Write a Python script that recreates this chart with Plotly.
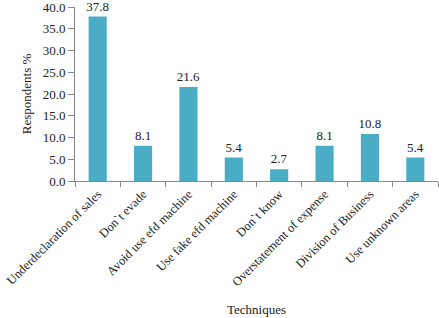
import plotly.graph_objects as go

categories = ["Underdeclaration of sales", "Don`t evade", "Avoid use efd machine",
              "Use fake efd machine", "Don`t know", "Overstatement of expense",
              "Division of Business", "Use unknown areas"]
values = [37.8, 8.1, 21.6, 5.4, 2.7, 8.1, 10.8, 5.4]
y_ticks = [0, 5, 10, 15, 20, 25, 30, 35, 40]

fam = "Liberation Serif, Times New Roman, serif"
font = dict(family=fam, size=13, color="#222222")

fig = go.Figure(go.Bar(
    x=categories, y=values,
    marker=dict(color="#4BACC6", line=dict(width=0)),
    text=[f"{v:.1f}" for v in values], textposition="outside",
    textfont=dict(family=fam, size=13, color="#222222"),
    constraintext="none",
    cliponaxis=False,
))

fig.update_layout(
    width=439, height=318,
    margin=dict(l=75, r=1, t=7, b=137),
    paper_bgcolor="white", plot_bgcolor="white",
    font=font, bargap=0.6, showlegend=False,
)
fig.update_yaxes(
    range=[0, 40], tickvals=y_ticks, tickformat=".1f",
    showgrid=False, showline=True, linecolor="#888888", linewidth=1,
    ticks="outside", ticklen=6, tickcolor="#888888",
    tickfont=dict(size=13), ticklabeloverflow="allow",
    title=dict(text="Respondents %", font=dict(size=13), standoff=8),
    zeroline=False, automargin=False,
)
fig.update_xaxes(
    showgrid=False, showline=True, linecolor="#888888", linewidth=1,
    ticks="outside", ticklen=5, tickcolor="#888888", tickson="boundaries",
    tickangle=-45, tickfont=dict(size=12.5), ticklabeloverflow="allow",
    title=dict(text="Techniques", font=dict(size=13), standoff=16),
    automargin=False,
)

fig.write_html("out.html", config={"displayModeBar": False},
               post_script="document.body.style.margin='0';")
